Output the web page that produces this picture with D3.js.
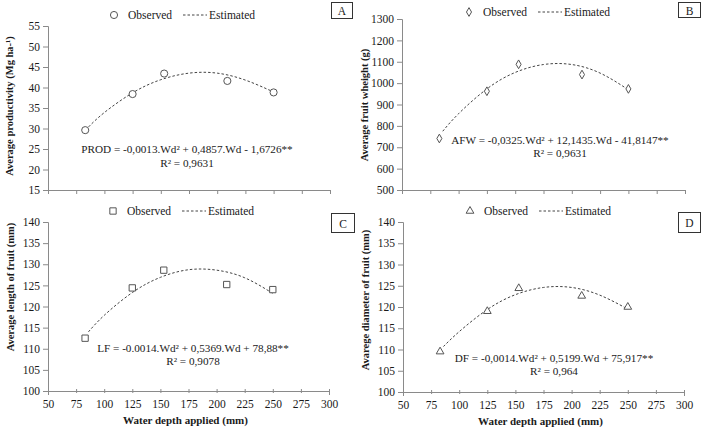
<!DOCTYPE html>
<html><head><meta charset="utf-8">
<script src="https://cdn.jsdelivr.net/npm/d3@7"></script>
<style>body{margin:0;background:#fff}svg{display:block}text{font-family:"Liberation Serif","Times New Roman",serif}</style>
</head><body><svg id="c" width="707" height="427"></svg>
<script>
// ---- data ----
const xDepth = [83, 125, 153, 209, 250];
const xTicks = [50, 75, 100, 125, 150, 175, 200, 225, 250, 275, 300];
const fitX = [86, 100, 125, 150, 175, 200, 225, 250];

const prodObs = [29.6, 38.4, 43.4, 41.6, 38.8];
const prodFit = [30.4, 33.9, 38.7, 41.9, 43.5, 43.5, 41.8, 38.9];
const prodTicks = [15, 20, 25, 30, 35, 40, 45, 50, 55];

const afwObs = [741, 962, 1088, 1040, 973];
const afwFit = [775, 857, 973, 1050, 1087, 1087, 1047, 969];
const afwTicks = [500, 600, 700, 800, 900, 1000, 1100, 1200, 1300];

const lfObs = [112.5, 124.4, 128.6, 125.2, 124.0];
const lfFit = [114.0, 117.9, 123.3, 126.9, 128.7, 128.6, 126.8, 123.1];
const lfTicks = [100, 105, 110, 115, 120, 125, 130, 135, 140];

const dfObs = [109.5, 119.0, 124.4, 122.6, 120.0];
const dfFit = [110.7, 114.2, 119.4, 122.9, 124.6, 124.6, 122.8, 119.5];
const dfTicks = [100, 105, 110, 115, 120, 125, 130, 135, 140];

const panels = [
  {id:"A", obs:prodObs, fit:prodFit, ticks:prodTicks, sym:d3.symbolCircle, size:40,
   ylab:"Average productivity  (Mg ha-¹)", eq:"PROD = -0,0013.Wd² + 0,4857.Wd - 1,6726**", r2:"R² = 0,9631",
   x0:48, x1:330, yt:26, yb:190, xlabels:false, lx:114, ly:15, box:[331,2,21,16],
   ylx:9, yly:106, eqx:187, eqy:153, r2y:167},
  {id:"B", obs:afwObs, fit:afwFit, ticks:afwTicks, sym:d3.symbolDiamond, size:22,
   ylab:"Average fruit  wheight  (g)", eq:"AFW = -0,0325.Wd² + 12,1435.Wd - 41,8147**", r2:"R² = 0,9631",
   x0:402, x1:685, yt:19, yb:190, xlabels:false, lx:469, ly:12, box:[678,2,22,15],
   ylx:364, yly:105, eqx:560, eqy:144, r2y:157},
  {id:"C", obs:lfObs, fit:lfFit, ticks:lfTicks, sym:d3.symbolSquare, size:40,
   ylab:"Average length of fruit  (mm)", eq:"LF = -0.0014.Wd² + 0,5369.Wd + 78,88**", r2:"R² = 0,9078",
   x0:48, x1:329, yt:222, yb:391, xlabels:true, lx:113, ly:211, box:[331,213,23,19],
   ylx:10, yly:287, eqx:193, eqy:352, r2y:365},
  {id:"D", obs:dfObs, fit:dfFit, ticks:dfTicks, sym:d3.symbolTriangle, size:26,
   ylab:"Avarege diameter of fruit  (mm)", eq:"DF = -0,0014.Wd² + 0,5199.Wd + 75,917**", r2:"R² = 0,964",
   x0:403, x1:684, yt:222, yb:392, xlabels:true, lx:470, ly:211, box:[678,212,22,20],
   ylx:365, yly:300, eqx:554, eqy:362, r2y:375}
];

const svg = d3.select("#c");
const axisCol = "#8a8a8a", txtCol = "#1a1a1a", mkCol = "#555";

panels.forEach(p => {
  const g = svg.append("g");
  const x = d3.scaleLinear().domain([50, 300]).range([p.x0, p.x1]);
  const y = d3.scaleLinear().domain(d3.extent(p.ticks)).range([p.yb, p.yt]);

  // y axis
  const ya = g.append("g").attr("transform", `translate(${p.x0},0)`)
    .call(d3.axisLeft(y).tickValues(p.ticks).tickSize(5).tickPadding(3).tickFormat(d3.format("d")));
  ya.select(".domain").attr("stroke", axisCol);
  ya.selectAll("line").attr("stroke", axisCol);
  ya.selectAll("text").attr("font-size", 11.5).attr("fill", txtCol).style("font-family", '"Liberation Serif",serif');

  // x axis
  const xa = g.append("g").attr("transform", `translate(0,${p.yb})`)
    .call(d3.axisBottom(x).tickValues(xTicks).tickSize(4).tickPadding(5)
      .tickFormat(p.xlabels ? d3.format("d") : () => ""));
  xa.select(".domain").attr("stroke", axisCol);
  xa.selectAll("line").attr("stroke", axisCol);
  if (p.xlabels) xa.selectAll(".tick line").attr("y1", -2).attr("y2", 2);
  xa.selectAll("text").attr("font-size", 11.5).attr("fill", txtCol).style("font-family", '"Liberation Serif",serif');

  if (p.xlabels) {
    g.append("text").attr("x", (p.x0 + p.x1) / 2 - 3).attr("y", p.yb + 33)
      .attr("text-anchor", "middle").attr("font-size", 11).attr("font-weight", "bold")
      .attr("fill", txtCol).text("Water depth applied  (mm)");
  }

  // y label
  g.append("text").attr("transform", `translate(${p.ylx},${p.yly}) rotate(-90)`)
    .attr("text-anchor", "middle").attr("dominant-baseline", "central")
    .attr("font-size", 10.5).attr("font-weight", "bold").attr("fill", txtCol).text(p.ylab);

  // fitted curve
  const line = d3.line().x((d, i) => x(fitX[i])).y(d => y(d)).curve(d3.curveNatural);
  g.append("path").datum(p.fit).attr("d", line).attr("fill", "none")
    .attr("stroke", "#444").attr("stroke-width", 1).attr("stroke-dasharray", "2.5,2");

  // observed markers
  const sym = d3.symbol().type(p.sym).size(p.size);
  g.selectAll(".m").data(p.obs).join("path")
    .attr("transform", (d, i) => `translate(${x(xDepth[i])},${y(d)})`)
    .attr("d", sym).attr("fill", "#fff").attr("stroke", mkCol).attr("stroke-width", 1);

  // equation
  g.append("text").attr("x", p.eqx).attr("y", p.eqy).attr("text-anchor", "middle")
    .attr("font-size", 11.2).attr("fill", txtCol).text(p.eq);
  g.append("text").attr("x", p.eqx).attr("y", p.r2y).attr("text-anchor", "middle")
    .attr("font-size", 11.2).attr("fill", txtCol).text(p.r2);

  // legend
  g.append("path").attr("transform", `translate(${p.lx},${p.ly})`).attr("d", sym)
    .attr("fill", "#fff").attr("stroke", mkCol).attr("stroke-width", 1);
  g.append("text").attr("x", p.lx + 14).attr("y", p.ly + 4).attr("font-size", 11.5)
    .attr("fill", txtCol).text("Observed");
  g.append("line").attr("x1", p.lx + 69).attr("x2", p.lx + 93).attr("y1", p.ly).attr("y2", p.ly)
    .attr("stroke", "#444").attr("stroke-dasharray", "2.5,2");
  g.append("text").attr("x", p.lx + 95).attr("y", p.ly + 4).attr("font-size", 11.5)
    .attr("fill", txtCol).text("Estimated");

  // panel letter box
  const b = p.box;
  g.append("rect").attr("x", b[0] + 0.5).attr("y", b[1] + 0.5).attr("width", b[2]).attr("height", b[3])
    .attr("fill", "#fff").attr("stroke", "#333").attr("stroke-width", 1);
  g.append("text").attr("x", b[0] + b[2] / 2 + 0.5).attr("y", b[1] + b[3] / 2 + 1)
    .attr("text-anchor", "middle").attr("dominant-baseline", "central")
    .attr("font-size", 11.5).attr("fill", txtCol).text(p.id);
});
</script></body></html>
